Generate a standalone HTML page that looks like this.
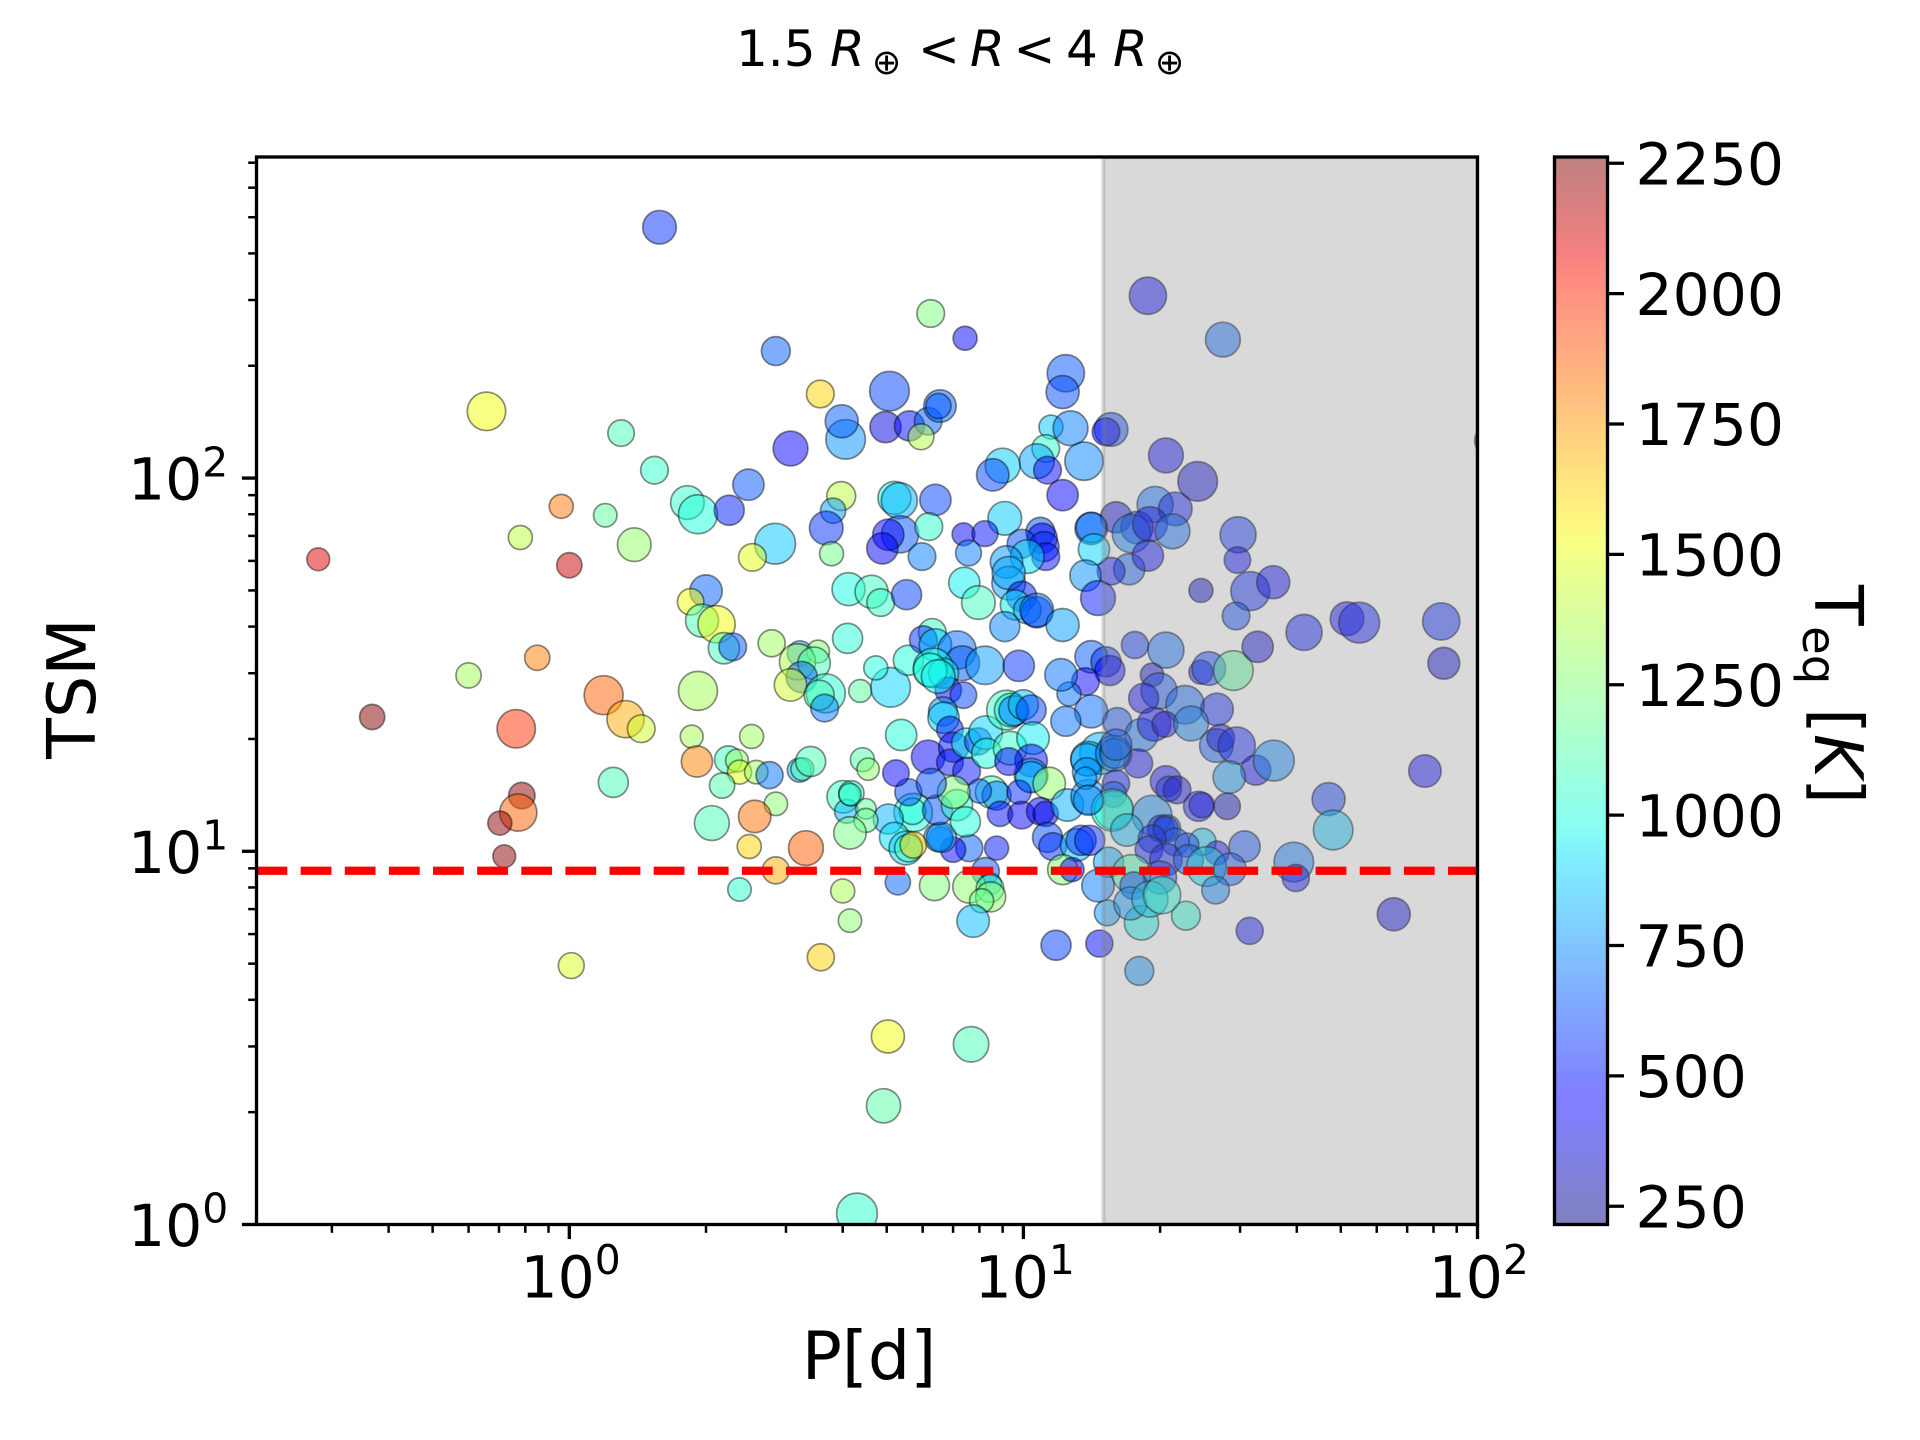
<!DOCTYPE html>
<html lang="en">
<head>
<meta charset="utf-8">
<title>TSM vs period scatter</title>
<style>
html,body{margin:0;padding:0;background:#fff;width:1920px;height:1440px;overflow:hidden}
svg{display:block}
text{font-family:"DejaVu Sans","Liberation Sans",sans-serif;fill:#000}
</style>
</head>
<body>
<svg id="chart" xmlns="http://www.w3.org/2000/svg" width="1920" height="1440" viewBox="0 0 1920 1440">
  <defs>
    <clipPath id="axes-clip"><rect x="256.5" y="157" width="1221" height="1067.5"/></clipPath>
    <linearGradient id="jet-gradient" x1="0" y1="1" x2="0" y2="0"></linearGradient>
  </defs>
  <rect width="1920" height="1440" fill="#fff"/>
  <g id="marks" clip-path="url(#axes-clip)"></g>
  <rect id="shade" clip-path="url(#axes-clip)" fill="#808080" fill-opacity="0.3" stroke="#808080" stroke-opacity="0.3" stroke-width="4.17"/>
  <line id="threshold" clip-path="url(#axes-clip)" stroke="#ff0000" stroke-width="8.33" stroke-dasharray="30.8 13.33"/>
  <g id="ticks"></g>
  <rect x="256.5" y="157" width="1221" height="1067.5" fill="none" stroke="#000" stroke-width="3.33"/>

  <text y="66" font-size="50"><tspan x="736">1.5</tspan><tspan x="830" font-style="italic">R</tspan><tspan x="872" y="74" font-size="35">⊕</tspan><tspan x="918" y="66">&lt;</tspan><tspan x="970" font-style="italic">R</tspan><tspan x="1013.5">&lt;</tspan><tspan x="1066">4</tspan><tspan x="1113" font-style="italic">R</tspan><tspan x="1155" y="74" font-size="35">⊕</tspan></text>
  <text x="869" y="1379" font-size="66.67" text-anchor="middle">P[d]</text>
  <text transform="translate(95,688.5) rotate(-90)" font-size="66.67" text-anchor="middle">TSM</text>

  <rect id="cbar" x="1554.5" y="157" width="53" height="1067.5" fill="url(#jet-gradient)"/>
  <g id="cbar-ticks"></g>
  <rect x="1554.5" y="157" width="53" height="1067.5" fill="none" stroke="#000" stroke-width="3.33"/>
  <g transform="translate(1815,585) rotate(90)">
    <text font-size="66.67"><tspan x="0" y="0">T</tspan><tspan x="41" y="12" font-size="46.67">eq</tspan><tspan x="123" y="0">[</tspan><tspan x="149" y="0" font-style="italic">K</tspan><tspan x="193" y="0">]</tspan></text>
  </g>
</svg>
<script>
const period = [
1.58,2.85,3.57,.657,1.3,1.54,1.82,1.92,2.25,2.48,
4.06,3.98,3.07,3.97,3.81,3.68,3.78,2.84,2.53,.28,
.78,.96,1.2,1.0,1.39,2.0,1.85,1.96,2.11,2.19,
2.29,2.79,.6,.85,1.19,1.33,1.44,.368,.764,.786,
.772,.703,.719,1.25,1.92,3.22,3.53,3.18,3.46,3.25,
3.07,3.67,3.55,3.65,4.37,5.1,4.73,5.58,6.3,6.02,
6.4,7.14,7.33,6.33,8.23,9.77,6.67,6.83,7.38,6.65,
6.67,6.23,6.49,5.38,6.89,6.17,7.02,6.89,7.5,7.5,
7.95,8.26,8.3,9.35,9.18,9.4,9.53,10,10.4,10.5,
10.4,10.4,10.4,9.28,11.4,8.51,8.73,8,9.78,8.88,
9.91,10.9,11.2,12.5,13.9,11.3,11.6,13.1,13.4,14,
8.73,7.6,7,6.57,6.5,6.6,5.72,5.7,6.47,7.14,
7.45,7.02,5.58,6.27,5.24,5.04,5.2,5.51,5.58,5.72,
8.25,8.47,5.29,6.37,7.6,8.44,8.47,8.09,7.75,2.52,
1.86,1.91,2.24,2.34,2.37,2.58,2.76,2.17,2.85,2.06,
2.56,2.49,3.32,2.85,2.37,3.21,3.26,3.4,4.42,4.55,
4.01,4.08,4.18,4.15,4.5,4.5,4.15,4,4.15,3.58,
1.01,4.3,5.03,7.67,4.92,11.8,14.7,18,31.5,65.4,
15.3,18.2,22.8,76.6,47,48.1,39.4,39.8,14.1,15.2,
15.5,13.7,14.1,17.6,20.6,24.6,25.6,29,32.8,19.2,
19.9,18.4,22.7,26.7,16.1,18.2,19.4,20.5,23.4,26.6,
27.2,29.5,32.5,35.6,28.4,17.9,14.8,13.9,13.8,13.8,
13.7,15.8,15.9,16,16,15.8,15.8,15.7,13.9,20.6,
20.9,21.8,24.3,24.7,28.1,19.2,20.1,20.7,20.6,16.9,
24.8,21.6,22.9,19.2,18.9,30.7,26.7,20.6,23.1,
25.3,28.5,15.4,17.3,20,17.5,14.6,17.2,19,20.2,
26.5,11.5,12.7,11.2,10.7,11.3,13.6,12.2,15.6,15.2,
9,8.56,20.6,24.2,19.5,21.6,16,17.8,17.3,19,
21.3,29.7,29.6,31.6,35.5,29.4,24.6,41.5,17.1,18.8,
15.6,14.1,14.1,14.3,13.7,14.6,9.1,10.9,11,9.91,
11.1,11.2,10.2,9.18,9.28,9.28,9.91,9.6,10.2,10.7,
10.7,9.1,12.2,4.97,5.61,6.17,5.95,6.55,6.5,5.07,
5.2,5.33,6.4,5.35,5.04,4.89,6.19,5.98,7.38,8.23,
7.57,4.12,4.63,4.85,5.53,7.41,7.96,4.1,12.2,12.8,
12.6,12.4,12.1,6.25,7.44,18.8,27.5,12.4,12.2,107,
83.2,84.3,51.6,54.9];
const tsm = [
470,219,168,151,132,105,86,80,82,96,
127,142,120,89.5,81.8,73.5,62.7,66.7,61.3,60.6,
69.3,84,79.5,58.4,66.3,49.8,46.6,41.5,40.6,35,
35.3,36.1,29.6,33,26.2,22.6,21.3,22.9,21.3,14.1,
12.7,11.9,9.7,15.3,26.9,33.9,34.3,32.2,31.9,29.3,
27.9,26.5,26.2,24.2,26.9,27.5,31,32.5,38.6,36.9,
35.7,34.6,31.9,31,31.5,31.4,30,27,26.2,23.7,
22.8,30.6,29.4,20.5,21.2,17.9,19,17.3,16.4,19.5,
19.7,20.8,18.3,18.9,23.9,23.9,23.8,24.7,23.9,20.1,
17.5,16,15.8,17.4,15.2,14.4,14.1,14.5,14.4,12.6,
12.5,12.8,12.6,13.3,14,10.9,10.3,10.4,10.7,10.7,
10.2,10.2,10.1,10.8,10.9,10.9,12.7,12.8,12.9,13.3,
12,14.4,14.4,15.2,16.2,12.2,10.9,10.2,10.2,10.4,
8.84,8.18,8.26,8.09,8.04,7.95,7.55,7.37,6.5,20.3,
20.3,17.4,17.6,17.5,16.3,16.3,16,15,13.4,11.9,
12.4,10.3,10.2,8.89,7.9,16.5,16.6,17.4,17.6,16.6,
14,12.8,14.3,14.2,13,12.1,11.2,7.83,6.52,5.2,
4.94,1.07,3.19,3.04,2.08,5.6,5.66,4.78,6.12,6.78,
6.84,6.43,6.72,16.4,13.8,11.4,9.36,8.48,33.2,32.2,
30.5,28.5,23.7,35.7,34.6,30.2,30.9,30.5,35.3,29.7,
26.9,25.7,24.7,24,22.2,20.5,21.9,21.9,22,19.2,
20.1,19.2,16.5,17.5,15.8,17.2,18.3,17.7,17.6,16.3,
15.7,18.3,18.3,19.3,15.2,14.2,12.9,12.9,13.7,15.4,
14.7,14.6,13.2,13.3,13.2,12.5,11.5,11.5,11.5,11.4,
10.6,10.6,10.4,10.8,10.1,10.3,9.9,9.5,9.5,
9.1,8.95,9.35,8.7,8.5,8.09,8.09,7.25,7.45,7.63,
7.87,137,136,120,111,105,111,90,135,133,
108,102,115,98,85,82.7,78.5,73.7,71,75.3,
72,70.5,60.3,49.8,52.6,42.7,50,38.6,57,62,
56.3,73.3,73.7,64.4,54.8,47.7,78,71.8,69,66.7,
65.5,61.6,61.6,59.6,52.3,55.7,48.2,45.7,44.3,43.7,
44.3,40,40.4,137,138,142,129,156,156,171,
88.5,87,87.4,70.7,70.5,64.8,74.1,61.6,70.7,71,
63,50.4,49.6,46.4,48.7,52.4,46.4,37.2,8.93,8.93,
26.4,22.3,29.7,276,237,308,235,191,170,126,
41.3,31.9,42,41];
const teq = [
560,660,1620,1530,1100,1050,1050,1000,530,640,
760,650,450,1400,780,560,1200,870,1500,2100,
1400,1820,1160,2130,1290,660,1530,1100,1530,1080,
640,1320,1330,1810,1870,1700,1450,2250,1970,2240,
1880,2230,2240,1090,1340,760,1250,1360,1100,660,
1450,1030,1100,720,1150,900,1000,1000,1060,560,
850,680,640,980,780,570,950,450,600,780,
880,1000,950,1000,520,470,500,520,520,950,
620,900,1000,1050,1080,950,700,850,600,950,
500,760,850,480,1300,1050,700,650,550,500,
460,450,400,820,750,620,560,850,560,550,
510,660,450,650,800,750,1000,1000,640,1030,
1000,1250,620,620,450,830,920,900,1100,1620,
650,800,660,1250,1280,1100,1280,1180,850,1320,
1340,1800,1080,1290,1480,1320,700,1120,1280,1100,
1840,1620,1880,1700,1040,820,1130,1100,1120,1280,
1060,830,1060,1030,1160,1180,1220,1350,1270,1630,
1480,1040,1530,1100,1140,590,480,760,480,380,
770,960,1000,440,570,860,700,490,650,560,
460,450,680,560,680,440,590,1150,370,350,
620,430,660,530,620,700,470,420,720,640,
400,520,470,730,770,480,820,860,780,760,
800,720,700,640,490,640,980,1020,750,430,
540,380,510,430,340,740,480,680,520,850,
870,620,600,540,510,620,470,500,640,
920,640,800,1100,620,600,720,780,900,1000,
730,870,720,1030,800,480,740,470,590,480,
880,600,430,370,680,510,380,560,720,440,
680,560,470,530,470,600,340,500,650,470,
490,620,720,900,760,520,880,620,470,620,
560,500,920,770,780,800,500,950,800,480,
720,730,780,380,490,660,1380,660,640,600,
950,820,600,640,470,420,1040,720,460,500,
720,980,1070,1050,600,950,1080,1020,1250,480,
700,690,700,1240,470,440,670,640,620,490,
540,380,460,500];
const planetRadius = [
2.8,2.4,2.3,3.2,2.2,2.3,2.8,3.25,2.5,2.6,
3.3,2.75,2.9,2.4,2.1,2.8,2,3.4,2.3,1.9,
2,2,1.95,2.1,2.8,2.7,2.2,2.75,3.1,2.6,
2.3,2.25,2.1,2.1,3.25,3.1,2.3,2.1,3.2,2.2,
3.1,2,1.9,2.5,3.25,2.1,1.9,3,2.7,2.6,
2.7,3.25,2.5,2.3,1.9,3.3,2,2.5,2.3,2.3,
2.7,3.2,2.9,3.3,3.2,2.6,2.5,2.2,2.2,2.4,
2.6,2.8,2.8,2.6,2.2,2.8,2.5,2.2,2.3,2.5,
2.25,2.8,2.5,2.8,3.3,2.8,2.5,2.5,2.5,2.7,
2.7,2.8,2.6,2.3,2.7,2.7,2.4,2,2,2.1,
2.3,2.3,2.1,2.7,2.9,2.5,2.3,2.7,2.5,2.5,
2,2.25,2.1,2,2.4,2.5,3.2,2.2,2.5,2.6,
2.5,2.7,2.25,2.5,2.2,2.5,2.5,2.8,2.3,2.2,
2.3,1.8,2.1,2.5,2.75,2.3,2.5,2,2.7,2,
1.9,2.6,2.3,1.9,2,1.95,2.25,2.1,1.95,2.9,
2.7,2,2.9,2.25,1.95,2,1.9,2.5,2,1.85,
2.7,2,2.1,1.85,1.7,2,2.7,2,1.95,2.25,
2.15,3.4,2.75,2.95,2.85,2.5,2.25,2.4,2.25,2.75,
2.15,2.85,2.4,2.7,2.75,3.3,3.3,2.25,2.7,2.5,
2.5,2.3,2.75,2.25,3,2,2.8,3.3,2.6,1.95,
3,2.5,3.2,2.7,2.4,2.75,2.8,2.15,2.9,2.8,
2.3,3.1,2.5,3.4,2.7,2.4,3.5,2.9,2.7,2.4,
1.85,3,2.5,2.6,2.25,2.15,3.2,3.5,2.5,2.6,
2.1,2.3,2.5,2.1,2.2,3.3,2.25,2.3,2.05,2.7,
2.25,2.3,2,2.3,2.3,2.6,2,2.7,2.5,
3.3,2.7,2.5,3.2,2.75,2.3,2.7,2.75,3,3.1,
2.3,2,2.9,2.3,2.9,2.3,3.2,2.6,2.8,2.3,
2.9,2.7,2.9,3.3,3,2.8,2.6,2.7,3.2,2.9,
2.9,3,2.2,3.25,2.75,2.3,2,3,2.6,2.6,
2.3,2.7,2.5,2.6,2.6,2.9,2.8,2.4,2.5,2.4,
2.5,2.3,2.8,2.7,2.8,2.75,2.5,2.5,2.3,2.6,
2.8,2.5,2.75,2.6,2.5,2.3,2.15,2.7,2.1,3.3,
2.75,3,2.6,3.1,2.6,2.6,2.3,2.3,1.9,2.15,
2.15,2.75,2.75,2.3,2.5,2.6,2.8,2.5,2.5,2,
2,2.5,2.7,2.3,2,3.1,2.9,3.1,2.75,2.7,
3.1,2.65,2.8,3.4];
const xMajorExponents = [0, 1, 2];
const yMajorExponents = [0, 1, 2];
const minorFactors = [2, 3, 4, 5, 6, 7, 8, 9];
const colorbarTicks = [250, 500, 750, 1000, 1250, 1500, 1750, 2000, 2250];
const tsmThreshold = 8.87;
const shadeStartPeriod = 15;

const xDomain = [0.2047, 100];
const yDomain = [1, 725];
const tDomain = [215, 2262];
const plot = { left: 256.5, right: 1477.5, top: 157, bottom: 1224.5 };
const SVGNS = 'http://www.w3.org/2000/svg';
const log10 = Math.log10;

function xAxis(v) {
  return plot.left + (log10(v) - log10(xDomain[0])) / (log10(xDomain[1]) - log10(xDomain[0])) * (plot.right - plot.left);
}
function yAxis(v) {
  return plot.bottom - (log10(v) - log10(yDomain[0])) / (log10(yDomain[1]) - log10(yDomain[0])) * (plot.bottom - plot.top);
}
function cAxis(v) {
  return plot.bottom - (v - tDomain[0]) / (tDomain[1] - tDomain[0]) * (plot.bottom - plot.top);
}
function ramp(t, pts) {
  for (let i = 1; i < pts.length; i++) {
    if (t <= pts[i][0]) {
      const a = pts[i - 1], b = pts[i];
      return a[1] + (b[1] - a[1]) * (t - a[0]) / (b[0] - a[0]);
    }
  }
  return pts[pts.length - 1][1];
}
function jet(t) {
  t = Math.min(1, Math.max(0, t));
  const r = ramp(t, [[0, 0], [0.35, 0], [0.66, 1], [0.89, 1], [1, 0.5]]);
  const g = ramp(t, [[0, 0], [0.125, 0], [0.375, 1], [0.64, 1], [0.91, 0], [1, 0]]);
  const b = ramp(t, [[0, 0.5], [0.11, 1], [0.34, 1], [0.65, 0], [1, 0]]);
  return 'rgb(' + Math.round(r * 255) + ',' + Math.round(g * 255) + ',' + Math.round(b * 255) + ')';
}
function tempColor(v) {
  return jet((v - tDomain[0]) / (tDomain[1] - tDomain[0]));
}
function make(tag, attrs, parent) {
  const el = document.createElementNS(SVGNS, tag);
  for (const k in attrs) el.setAttribute(k, attrs[k]);
  parent.appendChild(el);
  return el;
}

/* points */
const marks = document.getElementById('marks');
const n = Math.min(period.length, tsm.length, teq.length, planetRadius.length);
for (let i = 0; i < n; i++) {
  const c = make('circle', {
    cx: xAxis(period[i]).toFixed(2),
    cy: yAxis(tsm[i]).toFixed(2),
    r: (planetRadius[i] * 6).toFixed(2),
    fill: tempColor(teq[i]),
    'fill-opacity': 0.5,
    stroke: '#000',
    'stroke-opacity': 0.45,
    'stroke-width': 1.7
  }, marks);
  
  
}

/* shaded region and threshold */
const shade = document.getElementById('shade');
shade.setAttribute('x', xAxis(shadeStartPeriod));
shade.setAttribute('y', plot.top);
shade.setAttribute('width', plot.right - xAxis(shadeStartPeriod));
shade.setAttribute('height', plot.bottom - plot.top);
const threshold = document.getElementById('threshold');
threshold.setAttribute('x1', plot.left);
threshold.setAttribute('x2', plot.right);
threshold.setAttribute('y1', yAxis(tsmThreshold));
threshold.setAttribute('y2', yAxis(tsmThreshold));

/* ticks */
const ticks = document.getElementById('ticks');
function tickX(v, len, w) {
  const x = xAxis(v);
  const t = make('line', { x1: x, x2: x, y1: plot.bottom, y2: plot.bottom + len, stroke: '#000', 'stroke-width': w }, ticks);
  
  
}
function tickY(v, len, w) {
  const y = yAxis(v);
  const t = make('line', { x1: plot.left, x2: plot.left - len, y1: y, y2: y, stroke: '#000', 'stroke-width': w }, ticks);
  
  
}
function powerLabel(exp, x, y) {
  const t = make('text', { x: x, y: y, 'font-size': 58.33 }, ticks);
  const base = make('tspan', {}, t);
  base.textContent = '10';
  const sup = make('tspan', { dy: -23.3, 'font-size': 40.83 }, t);
  sup.textContent = String(exp);
  return t;
}
xMajorExponents.forEach(function (e) {
  const v = Math.pow(10, e);
  tickX(v, 14.58, 3.33);
  const label = powerLabel(e, xAxis(v) - 48.8, 1297.3);
  
  
});
yMajorExponents.forEach(function (e) {
  const v = Math.pow(10, e);
  tickY(v, 14.58, 3.33);
  const label = powerLabel(e, 128, yAxis(v) + 21.5);
  
  
});
[-1, 0, 1].forEach(function (e) {
  minorFactors.forEach(function (f) {
    const v = f * Math.pow(10, e);
    if (v > xDomain[0] && v < xDomain[1]) tickX(v, 8.33, 2.5);
  });
});
[0, 1, 2].forEach(function (e) {
  minorFactors.forEach(function (f) {
    const v = f * Math.pow(10, e);
    if (v > yDomain[0] && v < yDomain[1]) tickY(v, 8.33, 2.5);
  });
});

/* colorbar */
const grad = document.getElementById('jet-gradient');
for (let i = 0; i <= 64; i++) {
  const s = make('stop', { offset: i / 64, 'stop-color': jet(i / 64), 'stop-opacity': 0.5 }, grad);
}
const cticks = document.getElementById('cbar-ticks');
colorbarTicks.forEach(function (v) {
  const y = cAxis(v);
  const t = make('line', { x1: 1607.5, x2: 1624, y1: y, y2: y, stroke: '#000', 'stroke-width': 3.33 }, cticks);
  
  
  const l = make('text', { x: 1635.5, y: y + 21.2, 'font-size': 58.33 }, cticks);
  l.textContent = String(v);
  
  
});
</script>
</body>
</html>
